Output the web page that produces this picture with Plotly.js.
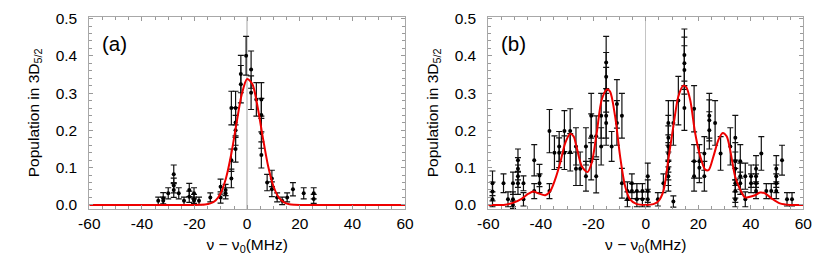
<!DOCTYPE html>
<html>
<head>
<meta charset="utf-8">
<script src="https://cdn.plot.ly/plotly-3.0.1.min.js"></script>
<style>html,body{margin:0;padding:0;background:#fff}#chart{width:830px;height:277px}</style>
</head>
<body>
<div id="chart"></div>
<script>
// ---------- Panel (a) data ----------
const aX = [-33.8, -31.9, -31.9, -30, -27.9, -27.9, -27.9, -26, -24, -22, -22, -20.2, -20.2, -20.2, -18.3, -14,
  -10.1, -10.1, -8.2, -8.2, -6, -6, -6, -4.4, -4.4, -4.4, -4.4, -2.4, -2.4, -0.4, 1.5, 1.5, 3.5,
  5.4, 5.4, 5.4, 5.4, 7.6, 9.4, 9.4, 11.4, 13.3, 15.2, 17.4, 21.5, 25.3, 25.3];
const aY = [0.011, 0.011, 0.018, 0.031, 0.082, 0.052, 0.040, 0.031, 0.011, 0.040, 0.022, 0.031, 0.016, 0.011, 0.011, 0.020,
  0.049, 0.020, 0.031, 0.040, 0.120, 0.071, 0.260, 0.260, 0.221, 0.200, 0.150, 0.324, 0.351, 0.400, 0.363, 0.301, 0.283,
  0.283, 0.241, 0.192, 0.134, 0.060, 0.071, 0.042, 0.020, 0.011, 0.020, 0.042, 0.031, 0.031, 0.016];
const aErr = [0.010, 0.010, 0.015, 0.015, 0.025, 0.020, 0.020, 0.015, 0.010, 0.018, 0.015, 0.015, 0.012, 0.010, 0.010, 0.012,
  0.020, 0.015, 0.015, 0.015, 0.030, 0.025, 0.045, 0.045, 0.040, 0.040, 0.035, 0.050, 0.050, 0.052, 0.050, 0.045, 0.045,
  0.045, 0.045, 0.040, 0.035, 0.022, 0.022, 0.020, 0.012, 0.010, 0.012, 0.018, 0.015, 0.015, 0.012];
// red fit curve (a)
const aFitX = [-60, -30, -20, -18, -16, -14, -12, -10, -8, -6, -4, -2, 0, 2, 4, 6, 8, 10, 12, 14, 16, 18, 20, 30, 60];
const aFitY = [0.0, 0.0, 0.0, 0.0003, 0.001, 0.004, 0.012, 0.032, 0.073, 0.138, 0.221, 0.298, 0.338, 0.324, 0.262, 0.179,
  0.103, 0.050, 0.020, 0.007, 0.002, 0.0005, 0.0, 0.0, 0.0];

// ---------- Panel (b) data ----------
const bX = [-58.4, -58.4, -58.4, -54.2, -52.5, -50.6, -50.6, -50.6, -48.7, -48.7, -48.7, -48.7, -46.6, -46.6,
  -42.5, -42.5, -40.5, -40.5, -36.7, -36.7, -34.8, -33, -33, -31, -31, -28.8, -28.8, -26.6, -26.6, -25,
  -22.8, -22.8, -20.8, -20.8, -20.8, -18.9, -18.9, -17, -17, -15.1, -15.1, -15.1, -15.1, -15.1, -13,
  -11, -11, -9.1, -9.1, -7, -7, -5.3, -5.3, -3.4, -3.4, -1.3, -1.3, 0.75, 0.75, 0.75,
  4.6, 6.7, 8.6, 8.6, 8.6, 8.6, 8.6, 8.6, 8.6, 10.5, 10.5, 12.4, 14.7, 14.7, 14.7, 14.7,
  18.4, 18.4, 18.4, 20.4, 20.4, 22.3, 22.3, 24.2, 24.2, 24.2, 26.4, 28.5, 32.2,
  34.1, 34.1, 34.1, 34.1, 34.1, 34.1, 36, 36, 36, 37.9, 37.9, 40.1, 40.1, 42, 42, 42, 42,
  44, 45.9, 47.8, 49.7, 49.7, 49.7, 49.7, 51.9, 53.8, 55.7];
const bY = [0.058, 0.036, 0.015, 0.058, 0.015, 0.058, 0.015, 0.000, 0.120, 0.097, 0.077, 0.058, 0.058, 0.015,
  0.120, 0.037, 0.079, 0.058, 0.198, 0.037, 0.140, 0.157, 0.140, 0.198, 0.140, 0.198, 0.141, 0.157, 0.097, 0.097,
  0.157, 0.077, 0.239, 0.184, 0.117, 0.184, 0.077, 0.239, 0.157, 0.382, 0.344, 0.309, 0.239, 0.220, 0.157,
  0.271, 0.220, 0.239, 0.058, 0.037, 0.015, 0.058, 0.037, 0.037, 0.015, 0.037, 0.015, 0.077, 0.037, 0.015,
  0.015, 0.058, 0.220, 0.180, 0.157, 0.138, 0.117, 0.097, 0.077, 0.220, 0.009, 0.280, 0.402, 0.380, 0.362, 0.260,
  0.258, 0.117, 0.077, 0.117, 0.100, 0.138, 0.077, 0.239, 0.227, 0.200, 0.220, 0.138, 0.157,
  0.180, 0.117, 0.097, 0.058, 0.037, 0.015, 0.117, 0.077, 0.058, 0.077, 0.015, 0.077, 0.058, 0.097, 0.077, 0.058, 0.037,
  0.138, 0.037, 0.037, 0.097, 0.077, 0.058, 0.037, 0.120, 0.015, 0.015];
const bErr = [0.033, 0.025, 0.020, 0.025, 0.020, 0.030, 0.020, 0.010, 0.030, 0.030, 0.030, 0.030, 0.020, 0.018,
  0.042, 0.020, 0.030, 0.025, 0.058, 0.020, 0.045, 0.040, 0.040, 0.055, 0.045, 0.060, 0.050, 0.050, 0.045, 0.045,
  0.050, 0.040, 0.060, 0.060, 0.050, 0.055, 0.045, 0.060, 0.050, 0.070, 0.065, 0.060, 0.060, 0.060, 0.040,
  0.065, 0.060, 0.060, 0.040, 0.025, 0.020, 0.025, 0.020, 0.020, 0.020, 0.020, 0.020, 0.035, 0.030, 0.020,
  0.018, 0.025, 0.060, 0.060, 0.055, 0.050, 0.050, 0.045, 0.040, 0.060, 0.015, 0.065, 0.070, 0.070, 0.065, 0.060,
  0.062, 0.045, 0.040, 0.045, 0.040, 0.045, 0.040, 0.060, 0.055, 0.050, 0.060, 0.045, 0.050,
  0.060, 0.050, 0.045, 0.040, 0.030, 0.020, 0.045, 0.035, 0.030, 0.035, 0.020, 0.030, 0.025, 0.035, 0.030, 0.025, 0.020,
  0.045, 0.020, 0.020, 0.035, 0.030, 0.025, 0.020, 0.040, 0.018, 0.018];
// red fit curve (b)
const bFitX = [-60, -54.2, -50.4, -47.2, -44.7, -42.8, -40.9, -38.3, -36.4, -34.5, -32.6, -30.7, -28.8, -27.5, -26.3,
  -24.4, -22.2, -20.6, -18.7, -16.8, -14.8, -13.6, -11.7, -9.8, -7.9, -6, -3.4, 0, 2.9, 4.8, 6.7, 8.6, 10.5, 12.4,
  14.3, 15.4, 16.9, 18.8, 20.7, 22.6, 23.9, 25.8, 27.7, 29.3, 30.8, 32.1, 34, 35.9, 37.8, 39.7, 41.6, 43.5, 45.4,
  48, 51.1, 55, 60];
const bFitY = [0.0, 0.0, 0.006, 0.017, 0.030, 0.036, 0.031, 0.026, 0.037, 0.069, 0.113, 0.166, 0.191, 0.184, 0.153,
  0.104, 0.088, 0.113, 0.193, 0.282, 0.310, 0.304, 0.238, 0.131, 0.051, 0.015, 0.002, 0.0, 0.002, 0.010, 0.037, 0.122,
  0.211, 0.291, 0.320, 0.316, 0.282, 0.193, 0.131, 0.095, 0.093, 0.131, 0.175, 0.193, 0.184, 0.149, 0.077, 0.042,
  0.020, 0.022, 0.026, 0.033, 0.031, 0.017, 0.004, 0.0, 0.0];

// ---------- ticks & labels ----------
const xTickVals = [-60, -40, -20, 0, 20, 40, 60];
const yTickVals = [0.0, 0.1, 0.2, 0.3, 0.4, 0.5];
const panelLabels = ['(a)', '(b)'];
const yTitle = 'Population in 3D<sub>5/2</sub>';
const xTitle = 'ν − ν<sub>0</sub>(MHz)';

const FONT = 'Liberation Sans, Arial, sans-serif';
const FS = 15.5;

function dataTrace(x, y, err, xa, ya) {
  return {
    type: 'scatter', mode: 'markers', x: x, y: y, xaxis: xa, yaxis: ya,
    marker: {color: '#000', size: 4, symbol: 'circle'},
    error_y: {type: 'data', array: err, visible: true, color: '#111', thickness: 1.2, width: 3},
    showlegend: false, hoverinfo: 'x+y'
  };
}
function fitTrace(x, y, xa, ya) {
  return {
    type: 'scatter', mode: 'lines', x: x, y: y, xaxis: xa, yaxis: ya,
    line: {color: '#ee0000', width: 2, shape: 'spline', smoothing: 0.8},
    showlegend: false, hoverinfo: 'skip'
  };
}

const traces = [
  dataTrace(aX, aY, aErr, 'x', 'y'),
  fitTrace(aFitX, aFitY, 'x', 'y'),
  dataTrace(bX, bY, bErr, 'x2', 'y2'),
  fitTrace(bFitX, bFitY, 'x2', 'y2')
];

function xAxis(domain, anchor, zw, zc) {
  return {
    domain: domain, anchor: anchor, range: [-60, 60],
    tickvals: xTickVals, ticktext: xTickVals.map(String),
    ticks: 'inside', ticklen: 4, tickcolor: '#9a9a9a', tickwidth: 1,
    minor: {dtick: 5, tick0: 0, ticks: 'inside', ticklen: 3, tickcolor: '#9a9a9a', tickwidth: 1, showgrid: false},
    showline: true, linecolor: '#a8a8a8', linewidth: 1, mirror: 'ticks',
    showgrid: false, zeroline: true, zerolinecolor: zc, zerolinewidth: zw,
    tickfont: {family: FONT, size: FS, color: '#000'},
    ticklabelstandoff: 0,
    title: {text: xTitle, font: {family: FONT, size: FS, color: '#000'}, standoff: 8}
  };
}
function yAxis(domain, anchor) {
  return {
    domain: domain, anchor: anchor, range: [-0.011, 0.505],
    tickvals: yTickVals, ticktext: yTickVals.map(v => v.toFixed(1)),
    ticks: 'inside', ticklen: 4, tickcolor: '#9a9a9a', tickwidth: 1,
    minor: {dtick: 0.02, tick0: 0, ticks: 'inside', ticklen: 3, tickcolor: '#9a9a9a', tickwidth: 1, showgrid: false},
    showline: true, linecolor: '#a8a8a8', linewidth: 1, mirror: 'ticks',
    showgrid: false, zeroline: false,
    tickfont: {family: FONT, size: FS, color: '#000'},
    ticklabelstandoff: 8,
    title: {text: yTitle, font: {family: FONT, size: FS, color: '#000'}, standoff: 12}
  };
}

const W = 830, H = 277;
const yDom = [1 - 209 / H, 1 - 16.7 / H];
const layout = {
  width: W, height: H,
  margin: {l: 0, r: 0, t: 0, b: 0},
  paper_bgcolor: '#fff', plot_bgcolor: '#fff',
  font: {family: FONT, size: FS, color: '#000'},
  xaxis: xAxis([89.3 / W, 405 / W], 'y', 2, '#d2d2d2'),
  yaxis: yAxis(yDom, 'x'),
  xaxis2: xAxis([488.3 / W, 803.3 / W], 'y2', 1, '#c4c4c4'),
  yaxis2: yAxis(yDom, 'x2'),
  annotations: [
    {text: panelLabels[0], xref: 'x domain', yref: 'y domain', x: 0.035, y: 0.86, xanchor: 'left', yanchor: 'middle',
     showarrow: false, font: {family: FONT, size: 20.5, color: '#000'}},
    {text: panelLabels[1], xref: 'x2 domain', yref: 'y2 domain', x: 0.035, y: 0.86, xanchor: 'left', yanchor: 'middle',
     showarrow: false, font: {family: FONT, size: 20.5, color: '#000'}}
  ]
};

Plotly.newPlot('chart', traces, layout, {displayModeBar: false, staticPlot: true});
</script>
</body>
</html>
